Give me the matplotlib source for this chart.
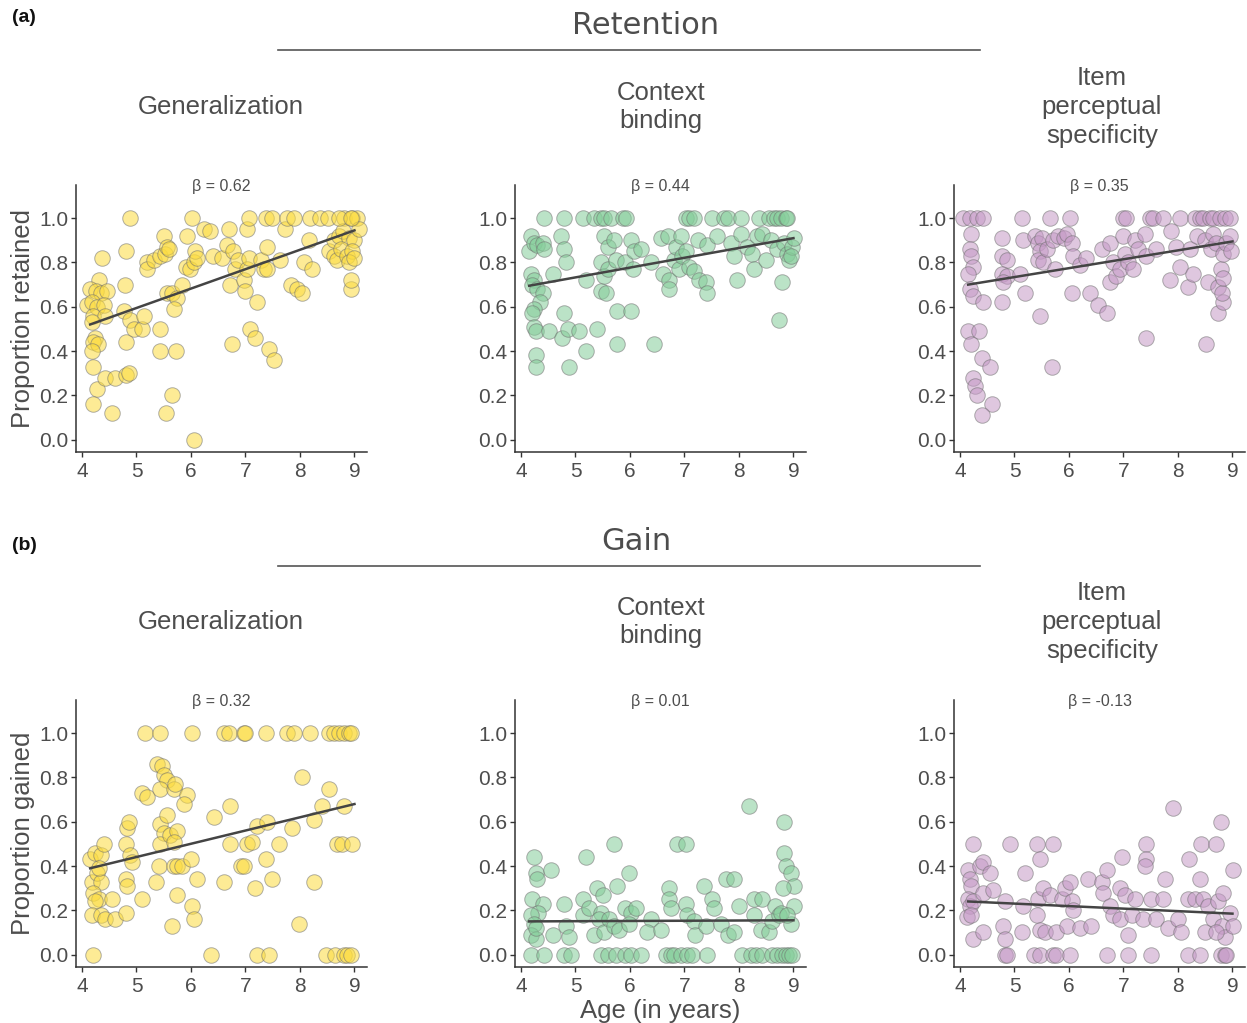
import matplotlib.pyplot as plt
from matplotlib.lines import Line2D

# ---- data (age in years, proportion) ----

# Retention - Generalization
ret_gen_x = [4.89, 4.80, 4.37, 4.31, 4.15, 4.25, 4.34, 4.46, 4.10, 4.18, 4.27, 4.40,
             4.20, 4.43, 4.18, 4.24, 4.21, 4.30, 4.18, 4.21, 4.27, 4.21, 4.43, 4.61,
             4.81, 4.86, 4.55, 4.80, 4.77, 4.79, 4.89, 4.95, 5.10, 5.13, 5.19, 5.19,
             5.32, 5.44, 5.53, 5.50, 5.56, 5.59, 5.44, 5.44, 5.56, 5.65, 5.74, 5.68,
             5.65, 5.55, 5.73, 5.84, 5.90, 5.93, 5.99, 6.05, 6.08, 6.11, 6.02, 6.05,
             6.23, 6.35, 6.41, 6.57, 6.66, 6.69, 6.72, 6.78, 6.81, 6.87, 6.75, 6.97,
             7.00, 7.03, 7.06, 7.03, 7.06, 7.09, 7.18, 7.21, 7.28, 7.34, 7.37, 7.49,
             7.40, 7.40, 7.43, 7.52, 7.64, 7.73, 7.76, 7.89, 7.83, 7.95, 8.04, 8.07,
             8.16, 8.22, 8.19, 8.37, 8.52, 8.53, 8.62, 8.68, 8.81, 8.62, 8.72, 8.79,
             8.90, 8.99, 8.75, 8.87, 8.96, 8.90, 8.99, 8.93, 8.93, 8.96, 9.05, 9.08,
             8.72, 8.93]
ret_gen_y = [1.00, 0.85, 0.82, 0.72, 0.68, 0.67, 0.66, 0.67, 0.61, 0.62, 0.60, 0.61,
             0.56, 0.56, 0.53, 0.46, 0.44, 0.43, 0.40, 0.33, 0.23, 0.16, 0.28, 0.28,
             0.29, 0.30, 0.12, 0.44, 0.58, 0.70, 0.54, 0.50, 0.50, 0.56, 0.80, 0.77,
             0.81, 0.83, 0.84, 0.92, 0.87, 0.86, 0.50, 0.40, 0.66, 0.66, 0.64, 0.59,
             0.20, 0.12, 0.40, 0.70, 0.78, 0.92, 0.77, 0.80, 0.85, 0.82, 1.00, 0.00,
             0.95, 0.94, 0.83, 0.82, 0.88, 0.95, 0.70, 0.85, 0.77, 0.81, 0.43, 0.72,
             0.67, 0.77, 0.82, 0.95, 1.00, 0.50, 0.46, 0.62, 0.81, 0.77, 1.00, 1.00,
             0.77, 0.87, 0.41, 0.36, 0.81, 0.95, 1.00, 1.00, 0.70, 0.68, 0.66, 0.80,
             0.90, 0.77, 1.00, 1.00, 1.00, 0.85, 0.83, 0.81, 1.00, 0.90, 0.92, 0.94,
             0.91, 0.90, 0.86, 0.83, 0.85, 0.80, 0.82, 0.68, 0.72, 1.00, 1.00, 0.95,
             1.00, 1.00]
ret_gen_fit_x = [4.15, 9.0]
ret_gen_fit_y = [0.52, 0.945]

# Retention - Context binding
ret_ctx_x = [4.43, 4.79, 5.13, 5.34, 5.47, 5.53, 5.65, 5.87, 5.93, 7.03, 7.09, 7.18,
             7.51, 7.73, 7.79, 8.03, 8.37, 8.55, 8.64, 8.70, 8.77, 8.86, 8.89,
             4.15, 4.18, 4.24, 4.30, 4.40, 4.43, 4.18, 4.24, 4.21, 4.30, 4.40, 4.34,
             4.24, 4.21, 4.24, 4.27, 4.52, 4.27, 4.27, 4.58, 4.73, 4.79, 4.82, 4.79,
             4.76, 4.89, 4.86, 5.07, 5.20, 5.20, 5.40, 5.47, 5.53, 5.59, 5.71, 5.47,
             5.56, 5.53, 5.59, 5.74, 5.77, 5.77, 5.90, 6.02, 6.02, 6.05, 6.08, 6.20,
             6.38, 6.44, 6.57, 6.60, 6.69, 6.72, 6.72, 6.81, 6.84, 6.90, 6.93, 6.96,
             7.02, 7.09, 7.18, 7.24, 7.27, 7.39, 7.42, 7.42, 7.60, 7.85, 7.91, 7.97,
             8.03, 8.15, 8.24, 8.27, 8.33, 8.42, 8.49, 8.58, 8.70, 8.73, 8.79, 8.83,
             8.89, 8.92, 8.98, 9.01, 8.95]
ret_ctx_y = [1.00] * 23 + [
             0.85, 0.92, 0.89, 0.88, 0.89, 0.86, 0.75, 0.72, 0.70, 0.68, 0.66, 0.62,
             0.59, 0.57, 0.51, 0.49, 0.49, 0.38, 0.33, 0.75, 0.92, 0.86, 0.80, 0.57,
             0.46, 0.33, 0.50, 0.49, 0.40, 0.72, 0.50, 0.80, 0.92, 0.87, 0.90, 0.67,
             0.66, 0.74, 0.77, 0.81, 0.58, 0.43, 0.80, 0.58, 0.90, 0.77, 0.85, 0.86,
             0.80, 0.43, 0.91, 0.75, 0.92, 0.72, 0.68, 0.81, 0.87, 0.77, 0.92, 0.83,
             0.85, 0.78, 0.76, 0.90, 0.72, 0.71, 0.66, 0.88, 0.92, 0.89, 0.83, 0.72,
             0.93, 0.87, 0.84, 0.77, 0.92, 0.93, 0.81, 0.90, 0.86, 0.54, 0.71, 0.89,
             0.84, 0.81, 0.87, 0.91, 0.83]
ret_ctx_fit_x = [4.15, 9.0]
ret_ctx_fit_y = [0.695, 0.91]

# Retention - Item perceptual specificity
ret_item_x = [4.06, 4.18, 4.31, 4.43, 5.13, 5.65, 6.01, 6.99, 7.05, 7.48, 7.54, 7.73,
              8.03, 8.31, 8.40, 8.46, 8.58, 8.64, 8.77, 8.86, 8.95,
              4.21, 4.18, 4.21, 4.24, 4.15, 4.18, 4.24, 4.43, 4.15, 4.34, 4.21, 4.40,
              4.55, 4.24, 4.27, 4.31, 4.58, 4.40, 4.77, 4.77, 4.86, 4.77, 4.86, 4.79,
              4.77, 5.10, 5.20, 5.16, 5.38, 5.44, 5.50, 5.47, 5.44, 5.53, 5.59, 5.47,
              5.68, 5.74, 5.71, 5.80, 5.90, 5.96, 6.05, 6.08, 6.20, 6.05, 6.32, 6.38,
              6.54, 6.60, 6.69, 6.75, 6.75, 6.81, 6.87, 6.93, 6.99, 7.02, 7.09, 7.18,
              7.21, 7.27, 7.42, 7.39, 7.42, 7.60, 7.85, 7.88, 7.97, 8.03, 8.19, 8.22,
              8.28, 8.34, 8.49, 8.52, 8.55, 8.61, 8.64, 8.70, 8.73, 8.73, 8.79, 8.83,
              8.83, 8.89, 8.95, 8.98, 8.80, 8.83]
ret_item_y = [1.00] * 21 + [
              0.93, 0.86, 0.83, 0.78, 0.75, 0.68, 0.65, 0.62, 0.49, 0.49, 0.43, 0.37,
              0.33, 0.28, 0.24, 0.20, 0.16, 0.11, 0.91, 0.83, 0.81, 0.75, 0.74, 0.71,
              0.62, 0.75, 0.66, 0.90, 0.92, 0.89, 0.91, 0.85, 0.81, 0.80, 0.86, 0.56,
              0.33, 0.77, 0.90, 0.92, 0.91, 0.93, 0.89, 0.83, 0.79, 0.66, 0.82, 0.66,
              0.61, 0.86, 0.57, 0.89, 0.71, 0.80, 0.74, 0.77, 0.92, 0.84, 0.80, 0.77,
              0.90, 0.86, 0.46, 0.93, 0.83, 0.86, 0.72, 0.94, 0.87, 0.78, 0.69, 0.86,
              0.75, 0.92, 0.90, 0.43, 0.71, 0.86, 0.93, 0.89, 0.69, 0.57, 0.77, 0.62,
              0.84, 0.89, 0.92, 0.85, 0.66, 0.73]
ret_item_fit_x = [4.15, 9.0]
ret_item_fit_y = [0.70, 0.895]

# Gain - Generalization
gain_gen_x = [5.16, 5.44, 6.02, 6.60, 6.69, 6.97, 7.00, 7.37, 7.77, 7.89, 8.19, 8.53,
              8.62, 8.71, 8.80, 8.90, 8.93,
              4.21, 6.36, 7.21, 7.43, 8.47, 8.65, 8.80, 8.86, 8.93,
              4.15, 4.24, 4.34, 4.40, 4.18, 4.28, 4.34, 4.21, 4.31, 4.24, 4.18, 4.34,
              4.43, 4.61, 4.55, 4.31, 4.80, 4.83, 4.86, 4.89, 4.92, 4.80, 4.83, 4.80,
              5.10, 5.10, 5.19, 5.35, 5.38, 5.47, 5.50, 5.56, 5.44, 5.68, 5.71, 5.44,
              5.56, 5.50, 5.41, 5.44, 5.62, 5.74, 5.68, 5.74, 5.84, 5.74, 5.65, 5.68,
              5.93, 5.87, 6.00, 6.02, 6.05, 6.11, 6.42, 6.60, 6.72, 6.72, 6.91, 6.97,
              7.03, 7.12, 7.18, 7.21, 7.40, 7.37, 7.49, 7.61, 7.86, 7.98, 8.04, 8.25,
              8.25, 8.41, 8.53, 8.68, 8.77, 8.80, 8.96]
gain_gen_y = [1.00] * 17 + [0.00] * 9 + [
              0.43, 0.46, 0.45, 0.50, 0.33, 0.37, 0.33, 0.28, 0.25, 0.24, 0.18, 0.18,
              0.16, 0.16, 0.25, 0.39, 0.50, 0.57, 0.60, 0.45, 0.42, 0.34, 0.31, 0.19,
              0.25, 0.73, 0.71, 0.33, 0.86, 0.85, 0.81, 0.79, 0.75, 0.75, 0.77, 0.59,
              0.63, 0.55, 0.40, 0.50, 0.54, 0.56, 0.40, 0.40, 0.40, 0.27, 0.13, 0.51,
              0.72, 0.68, 0.43, 0.22, 0.16, 0.34, 0.62, 0.33, 0.67, 0.50, 0.40, 0.40,
              0.50, 0.51, 0.30, 0.58, 0.60, 0.43, 0.34, 0.50, 0.57, 0.14, 0.80, 0.61,
              0.33, 0.67, 0.75, 0.50, 0.50, 0.67, 0.50]
gain_gen_fit_x = [4.15, 9.0]
gain_gen_fit_y = [0.39, 0.68]

# Gain - Context binding
gain_ctx_x = [4.18, 4.43, 4.79, 4.91, 5.47, 5.59, 5.74, 5.90, 6.02, 6.20, 6.66, 6.75,
              6.81, 6.93, 7.05, 7.14, 7.42, 8.06, 8.22, 8.31, 8.43, 8.61, 8.70, 8.79,
              8.86, 8.92, 8.98,
              4.24, 4.27, 4.30, 4.55, 4.21, 4.40, 4.31, 4.18, 4.24, 4.18, 4.27, 4.27,
              4.58, 4.79, 4.82, 4.89, 5.13, 5.13, 5.19, 5.25, 5.71, 5.40, 5.50, 5.47,
              5.44, 5.34, 5.53, 5.62, 5.71, 5.77, 5.80, 5.99, 5.90, 6.02, 6.11, 5.99,
              6.38, 6.32, 6.57, 6.72, 6.72, 6.75, 6.87, 7.02, 7.02, 7.05, 7.17, 7.20,
              7.39, 7.36, 7.51, 7.54, 7.67, 7.76, 7.79, 7.91, 7.91, 8.00, 8.18, 8.27,
              8.27, 8.43, 8.40, 8.55, 8.61, 8.67, 8.73, 8.83, 8.83, 8.86, 8.95, 9.01,
              9.01, 8.95, 8.80, 8.77, 8.89]
gain_ctx_y = [0.00] * 27 + [
              0.44, 0.37, 0.34, 0.38, 0.25, 0.23, 0.19, 0.18, 0.14, 0.09, 0.07, 0.12,
              0.09, 0.23, 0.13, 0.08, 0.25, 0.18, 0.44, 0.21, 0.50, 0.30, 0.27, 0.19,
              0.16, 0.09, 0.10, 0.16, 0.13, 0.31, 0.11, 0.37, 0.21, 0.19, 0.21, 0.14,
              0.16, 0.10, 0.11, 0.30, 0.25, 0.21, 0.50, 0.50, 0.23, 0.18, 0.15, 0.09,
              0.13, 0.31, 0.25, 0.21, 0.14, 0.34, 0.09, 0.34, 0.10, 0.22, 0.67, 0.25,
              0.18, 0.25, 0.11, 0.10, 0.15, 0.22, 0.18, 0.60, 0.46, 0.40, 0.37, 0.31,
              0.22, 0.14, 0.30, 0.19, 0.18]
gain_ctx_fit_x = [4.15, 9.0]
gain_ctx_fit_y = [0.15, 0.155]

# Gain - Item perceptual specificity
gain_item_x = [4.83, 4.86, 5.35, 5.47, 5.71, 5.77, 6.02, 6.69, 7.09, 7.51, 8.18, 8.40,
               8.79, 8.86, 8.89,
               4.15, 4.18, 4.21, 4.24, 4.15, 4.18, 4.24, 4.12, 4.21, 4.24, 4.37, 4.43,
               4.55, 4.43, 4.43, 4.61, 4.83, 4.79, 4.83, 4.91, 5.16, 5.19, 5.13, 5.41,
               5.47, 5.71, 5.41, 5.44, 5.53, 5.47, 5.56, 5.65, 5.77, 5.87, 5.96, 5.93,
               6.02, 6.05, 6.08, 6.20, 6.35, 6.41, 6.60, 6.69, 6.63, 6.75, 6.81, 6.97,
               6.93, 6.93, 7.02, 7.09, 7.15, 7.21, 7.36, 7.42, 7.42, 7.39, 7.51, 7.60,
               7.73, 7.76, 7.82, 7.91, 8.00, 8.06, 8.21, 8.18, 8.31, 8.40, 8.43, 8.46,
               8.49, 8.55, 8.64, 8.70, 8.73, 8.79, 8.83, 8.80, 8.86, 8.96, 9.01, 9.01,
               8.70]
gain_item_y = [0.00] * 15 + [
               0.38, 0.34, 0.31, 0.50, 0.25, 0.22, 0.24, 0.17, 0.18, 0.07, 0.40, 0.42,
               0.37, 0.10, 0.28, 0.29, 0.24, 0.13, 0.07, 0.50, 0.22, 0.37, 0.10, 0.50,
               0.43, 0.50, 0.18, 0.25, 0.30, 0.11, 0.10, 0.27, 0.10, 0.25, 0.13, 0.30,
               0.33, 0.24, 0.20, 0.12, 0.34, 0.13, 0.33, 0.38, 0.28, 0.22, 0.18, 0.44,
               0.30, 0.16, 0.27, 0.09, 0.18, 0.25, 0.16, 0.50, 0.43, 0.40, 0.25, 0.16,
               0.25, 0.34, 0.12, 0.66, 0.16, 0.10, 0.43, 0.25, 0.25, 0.34, 0.50, 0.25,
               0.10, 0.22, 0.16, 0.50, 0.24, 0.60, 0.28, 0.13, 0.08, 0.19, 0.38, 0.13,
               0.10]
gain_item_fit_x = [4.15, 9.0]
gain_item_fit_y = [0.24, 0.185]

betas = [["0.62", "0.44", "0.35"], ["0.32", "0.01", "-0.13"]]
col_titles = ["Generalization", "Context\nbinding", "Item\nperceptual\nspecificity"]
row_titles = ["Retention", "Gain"]
row_tags = ["(a)", "(b)"]
row_ylabels = ["Proportion retained", "Proportion gained"]
x_ticks = [4, 5, 6, 7, 8, 9]
y_ticks = [0.0, 0.2, 0.4, 0.6, 0.8, 1.0]

panels = [
    [(ret_gen_x, ret_gen_y, ret_gen_fit_x, ret_gen_fit_y),
     (ret_ctx_x, ret_ctx_y, ret_ctx_fit_x, ret_ctx_fit_y),
     (ret_item_x, ret_item_y, ret_item_fit_x, ret_item_fit_y)],
    [(gain_gen_x, gain_gen_y, gain_gen_fit_x, gain_gen_fit_y),
     (gain_ctx_x, gain_ctx_y, gain_ctx_fit_x, gain_ctx_fit_y),
     (gain_item_x, gain_item_y, gain_item_fit_x, gain_item_fit_y)],
]

colors = ["#FCDC3F", "#84CD99", "#C599C6"]
TXT = "#4d4d4d"

plt.rcParams['font.family'] = ['Liberation Sans', 'DejaVu Sans']

W, H = 1247, 1023
fig = plt.figure(figsize=(W / 100, H / 100), dpi=100)

col_left = [76, 515, 954]
row_top = [185, 700]
ax_w, ax_h = 291, 267

for r in range(2):
    for c in range(3):
        xs, ys, fx, fy = panels[r][c]
        ax = fig.add_axes([col_left[c] / W, 1 - (row_top[r] + ax_h) / H, ax_w / W, ax_h / H])
        ax.scatter(xs, ys, s=125, facecolor=colors[c], edgecolor="#707070",
                   linewidth=0.7, alpha=0.55, zorder=2)
        ax.plot(fx, fy, color="#444444", lw=1.8, zorder=3)
        ax.set_xlim(3.89, 9.23)
        ax.set_ylim(-0.056, 1.15)
        ax.set_xticks(x_ticks)
        ax.set_yticks(y_ticks)
        ax.set_yticklabels(["%.1f" % v for v in y_ticks])
        for s in ["top", "right"]:
            ax.spines[s].set_visible(False)
        for s in ["left", "bottom"]:
            ax.spines[s].set_color("#333333")
            ax.spines[s].set_linewidth(1.1)
        ax.tick_params(colors="#333333", labelcolor=TXT, labelsize=15,
                       length=3.5, width=1, pad=2)
        ax.tick_params(axis="x", pad=4)
        ax.text(0.5, 0.995, "\u03b2 = " + betas[r][c], transform=ax.transAxes,
                ha="center", va="center", fontsize=11.5, color=TXT)
        if c == 0:
            ax.set_ylabel(row_ylabels[r], fontsize=18.5, color=TXT, labelpad=3)
        if r == 1 and c == 1:
            ax.set_xlabel("Age (in years)", fontsize=18.5, color=TXT, labelpad=2)

# headers
head_y = [26, 541]
rule_y = [50, 566]
title_y = [107, 622]
tag_y = [18, 545]
title_x = [221, 661, 1102]
for r in range(2):
    fig.text(12 / W, 1 - tag_y[r] / H, row_tags[r], fontsize=14, fontweight="bold",
             color="#111111", ha="left", va="center")
    fig.text((646 if r == 0 else 636) / W, 1 - head_y[r] / H, row_titles[r],
             fontsize=22, color=TXT, ha="center", va="center", family="DejaVu Sans")
    fig.add_artist(Line2D([278 / W, 980 / W], [1 - rule_y[r] / H] * 2,
                          color="#555555", lw=1.2))
    for c in range(3):
        fig.text(title_x[c] / W, 1 - title_y[r] / H, col_titles[c], fontsize=18.5,
                 color=TXT, ha="center", va="center", linespacing=1.25)

fig.savefig("out.png", dpi=100)
